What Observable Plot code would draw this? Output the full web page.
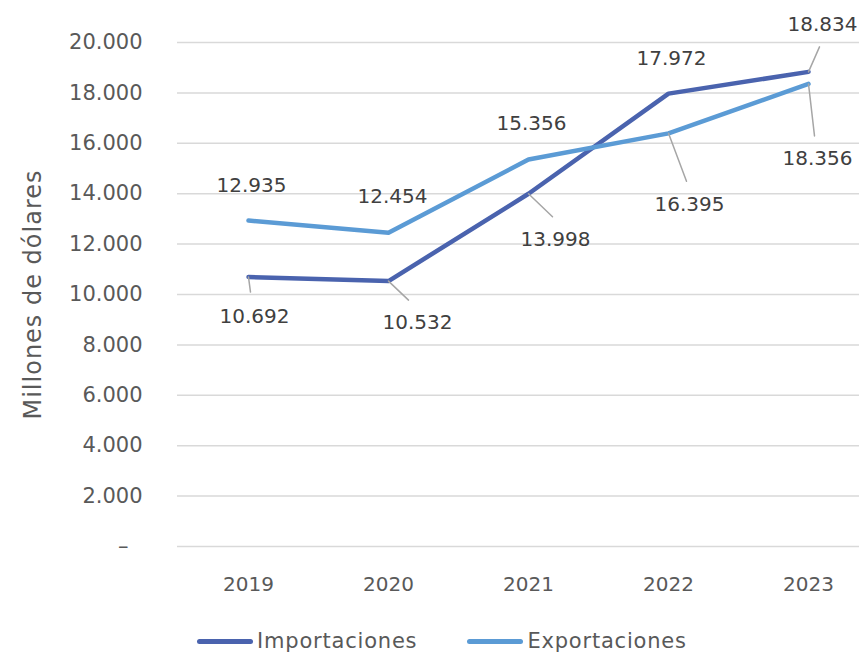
<!DOCTYPE html>
<html>
<head>
<meta charset="utf-8">
<script src="https://cdn.jsdelivr.net/npm/d3@7"></script>
<script src="https://cdn.jsdelivr.net/npm/@observablehq/plot@0.6"></script>
<style>
  body { margin: 0; background: #fff; font-family: "DejaVu Sans", sans-serif; }
  #chart svg { display: block; }
  .legend { display: flex; align-items: center; height: 54px; margin-top: 14px; padding-left: 197px; font-size: 21px; letter-spacing: 0.8px; color: #595959; }
  .legend .item { display: flex; align-items: center; margin-right: 50px; }
  .legend .sw { width: 56px; height: 5px; border-radius: 3px; margin-right: 4px; }
</style>
</head>
<body>
<div id="chart"></div>
<script>
const years = ["2019", "2020", "2021", "2022", "2023"];
const importaciones = [10692, 10532, 13998, 17972, 18834];
const exportaciones = [12935, 12454, 15356, 16395, 18356];
const seriesNames = ["Importaciones", "Exportaciones"];
const seriesColors = ["#4A63AE", "#5B9BD5"];
const yTicks = [0, 2000, 4000, 6000, 8000, 10000, 12000, 14000, 16000, 18000, 20000];
const yTitle = "Millones de dólares";

// label placement (pixel offsets from point): [dx, dy] for text, and leader end (or null)
const labelLayout = {
  Importaciones: [
    {t: [6, 40], l: [2, 15]},
    {t: [29, 42], l: [20, 19]},
    {t: [27, 46], l: [24, 23]},
    {t: [3, -35], l: null},
    {t: [14, -47], l: [11, -25]}
  ],
  Exportaciones: [
    {t: [3, -35], l: null},
    {t: [4, -36], l: null},
    {t: [3, -36], l: null},
    {t: [21, 71], l: [18, 48]},
    {t: [9, 75], l: [6, 52]}
  ]
};

const rows = [];
[importaciones, exportaciones].forEach((vals, si) => {
  vals.forEach((v, i) => {
    const lay = labelLayout[seriesNames[si]][i];
    rows.push({year: years[i], value: v, series: seriesNames[si], tdx: lay.t[0], tdy: lay.t[1], leader: lay.l});
  });
});
const fmt = d3.format(",.0f");
const fmtEs = v => fmt(v).replace(/,/g, ".");

const leaders = rows.filter(d => d.leader).map(d => ({
  ...d,
  len: Math.hypot(d.leader[0], d.leader[1]),
  rot: Math.atan2(d.leader[0], -d.leader[1]) * 180 / Math.PI
}));

const lineShape = { draw(context, l) { context.moveTo(0, 0); context.lineTo(0, -l); } };

const textMarks = rows.map(d => Plot.text([d], {
  x: "year", y: "value", text: d => fmtEs(d.value), dx: d.tdx, dy: d.tdy,
  fill: "#404040", fontSize: 20, textAnchor: "middle", lineAnchor: "middle"
}));

const chart = Plot.plot({
  width: 859,
  height: 600,
  marginLeft: 177,
  marginRight: 0,
  marginTop: 42,
  marginBottom: 54,
  style: { fontFamily: "'DejaVu Sans', sans-serif", color: "#595959", background: "#fff" },
  x: { type: "point", domain: years, range: [247, 808], padding: 0 },
  y: { domain: [0, 20000], ticks: yTicks },
  length: { type: "identity" },
  color: { domain: seriesNames, range: seriesColors },
  marks: [
    Plot.gridY(yTicks, { stroke: "#D9D9D9", strokeOpacity: 1, strokeWidth: 1.5 }),
    Plot.axisY(yTicks.filter(t => t !== 0), { tickSize: 0, tickPadding: 35, fontSize: 21, label: null, tickFormat: fmtEs }),
    Plot.axisY([0], { tickSize: 0, tickPadding: 49, fontSize: 21, label: null, tickFormat: () => "–" }),
    Plot.axisX({ tickSize: 0, tickPadding: 30, fontSize: 20, label: null }),
    Plot.text([yTitle], { frameAnchor: "left", rotate: -90, dx: -144, fontSize: 24, fill: "#595959", textAnchor: "middle" }),
    Plot.lineY(rows, { x: "year", y: "value", z: "series", stroke: "series", strokeWidth: 4.5, strokeLinecap: "round", strokeLinejoin: "round" }),
    Plot.vector(leaders, { x: "year", y: "value", length: "len", rotate: "rot", anchor: "start", shape: lineShape, stroke: "#A6A6A6", strokeWidth: 1.5 }),
    ...textMarks
  ]
});
document.getElementById("chart").appendChild(chart);
chart.querySelectorAll("text").forEach(t => {
  if (t.textContent === yTitle) t.setAttribute("letter-spacing", "1");
});

const legend = document.createElement("div");
legend.className = "legend";
seriesNames.forEach((n, i) => {
  const it = document.createElement("div");
  it.className = "item";
  it.innerHTML = `<span class="sw" style="background:${seriesColors[i]}"></span><span>${n}</span>`;
  legend.appendChild(it);
});
document.body.appendChild(legend);
</script>
</body>
</html>
